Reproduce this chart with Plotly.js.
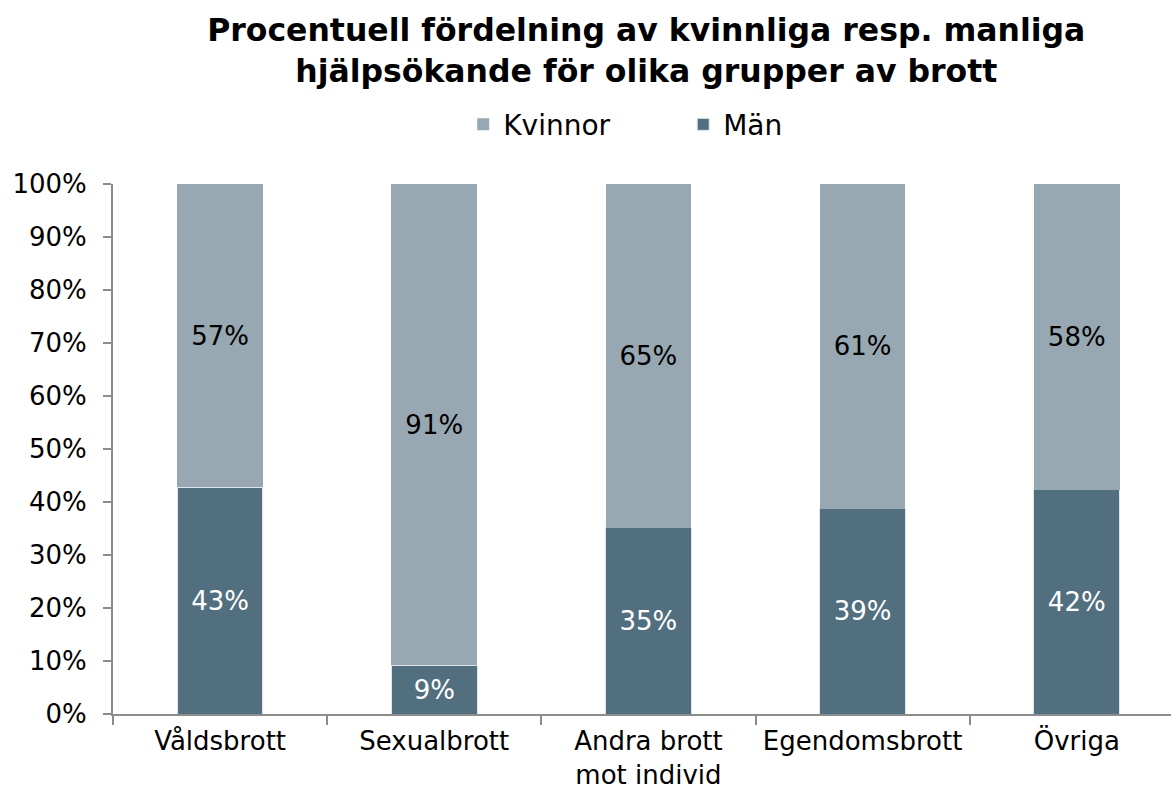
<!DOCTYPE html>
<html>
<head>
<meta charset="utf-8">
<script src="https://cdn.plot.ly/plotly-3.0.1.min.js"></script>
<style>html,body{margin:0;padding:0;background:#fff;}#chart{width:1171px;height:792px;}</style>
</head>
<body>
<div id="chart"></div>
<script>
const categories = ["Våldsbrott", "Sexualbrott", "Andra brott<br>mot individ", "Egendomsbrott", "Övriga"];
const man = [42.8, 9.2, 35.1, 38.7, 42.3];
const kvinnor = [57.2, 90.8, 64.9, 61.3, 57.7];
const manLabels = ["43%", "9%", "35%", "39%", "42%"];
const kvinnorLabels = ["57%", "91%", "65%", "61%", "58%"];
const yTickVals = [0, 10, 20, 30, 40, 50, 60, 70, 80, 90, 100];
const yTickText = ["0%", "10%", "20%", "30%", "40%", "50%", "60%", "70%", "80%", "90%", "100%"];

const FONT = "Verdana, 'DejaVu Sans', sans-serif";

const traces = [
  {
    type: "bar", name: "Män", x: categories, y: man,
    text: manLabels, textposition: "inside", insidetextanchor: "middle",
    textangle: 0, constraintext: "none",
    textfont: {family: FONT, size: 26, color: "#ffffff"},
    marker: {color: "#526f80", line: {width: 1, color: "#dfe5e8"}},
    width: 0.4, hoverinfo: "skip"
  },
  {
    type: "bar", name: "Kvinnor", x: categories, y: kvinnor,
    text: kvinnorLabels, textposition: "inside", insidetextanchor: "middle",
    textangle: 0, constraintext: "none",
    textfont: {family: FONT, size: 26, color: "#000000"},
    marker: {color: "#98a8b2", line: {width: 0}},
    width: 0.4, hoverinfo: "skip"
  }
];

const layout = {
  width: 1171, height: 792, autosize: false,
  paper_bgcolor: "#ffffff", plot_bgcolor: "#ffffff",
  font: {family: FONT, size: 26, color: "#000000"},
  barmode: "stack",
  margin: {l: 113, r: 0, t: 184, b: 78, pad: 0, autoexpand: false},
  title: {
    text: "<b>Procentuell fördelning av kvinnliga resp. manliga<br>hjälpsökande för olika grupper av brott</b>",
    font: {family: FONT, size: 31.5, color: "#000000"},
    x: 0.504, xref: "paper", xanchor: "center",
    y: 0.948, yref: "container", yanchor: "top", automargin: false
  },
  showlegend: true,
  legend: {
    orientation: "h", traceorder: "reversed",
    x: 0.331, xref: "paper", xanchor: "left",
    y: 1.112, yref: "paper", yanchor: "middle",
    font: {family: FONT, size: 28, color: "#000000"},
    entrywidth: 175, entrywidthmode: "pixels",
    itemclick: false
  },
  xaxis: {
    type: "category",
    range: [-0.5, 4.44],
    showgrid: false, zeroline: false,
    showline: true, linecolor: "#8c8c8c", linewidth: 2,
    ticks: "outside", tickson: "boundaries", ticklen: 9, tickcolor: "#8c8c8c", tickwidth: 2,
    tickangle: 0, automargin: false, ticklabelstandoff: 3,
    tickfont: {family: FONT, size: 26, color: "#000000"},
    fixedrange: true
  },
  yaxis: {
    range: [0, 100],
    tickvals: yTickVals, ticktext: yTickText,
    showgrid: false, zeroline: false, automargin: false,
    showline: true, linecolor: "#8c8c8c", linewidth: 2,
    ticks: "outside", ticklen: 8, tickcolor: "#8c8c8c", tickwidth: 2,
    ticklabelstandoff: 11,
    tickfont: {family: FONT, size: 26, color: "#000000"},
    fixedrange: true
  }
};

Plotly.newPlot("chart", traces, layout, {displayModeBar: false, staticPlot: true});
</script>
</body>
</html>
